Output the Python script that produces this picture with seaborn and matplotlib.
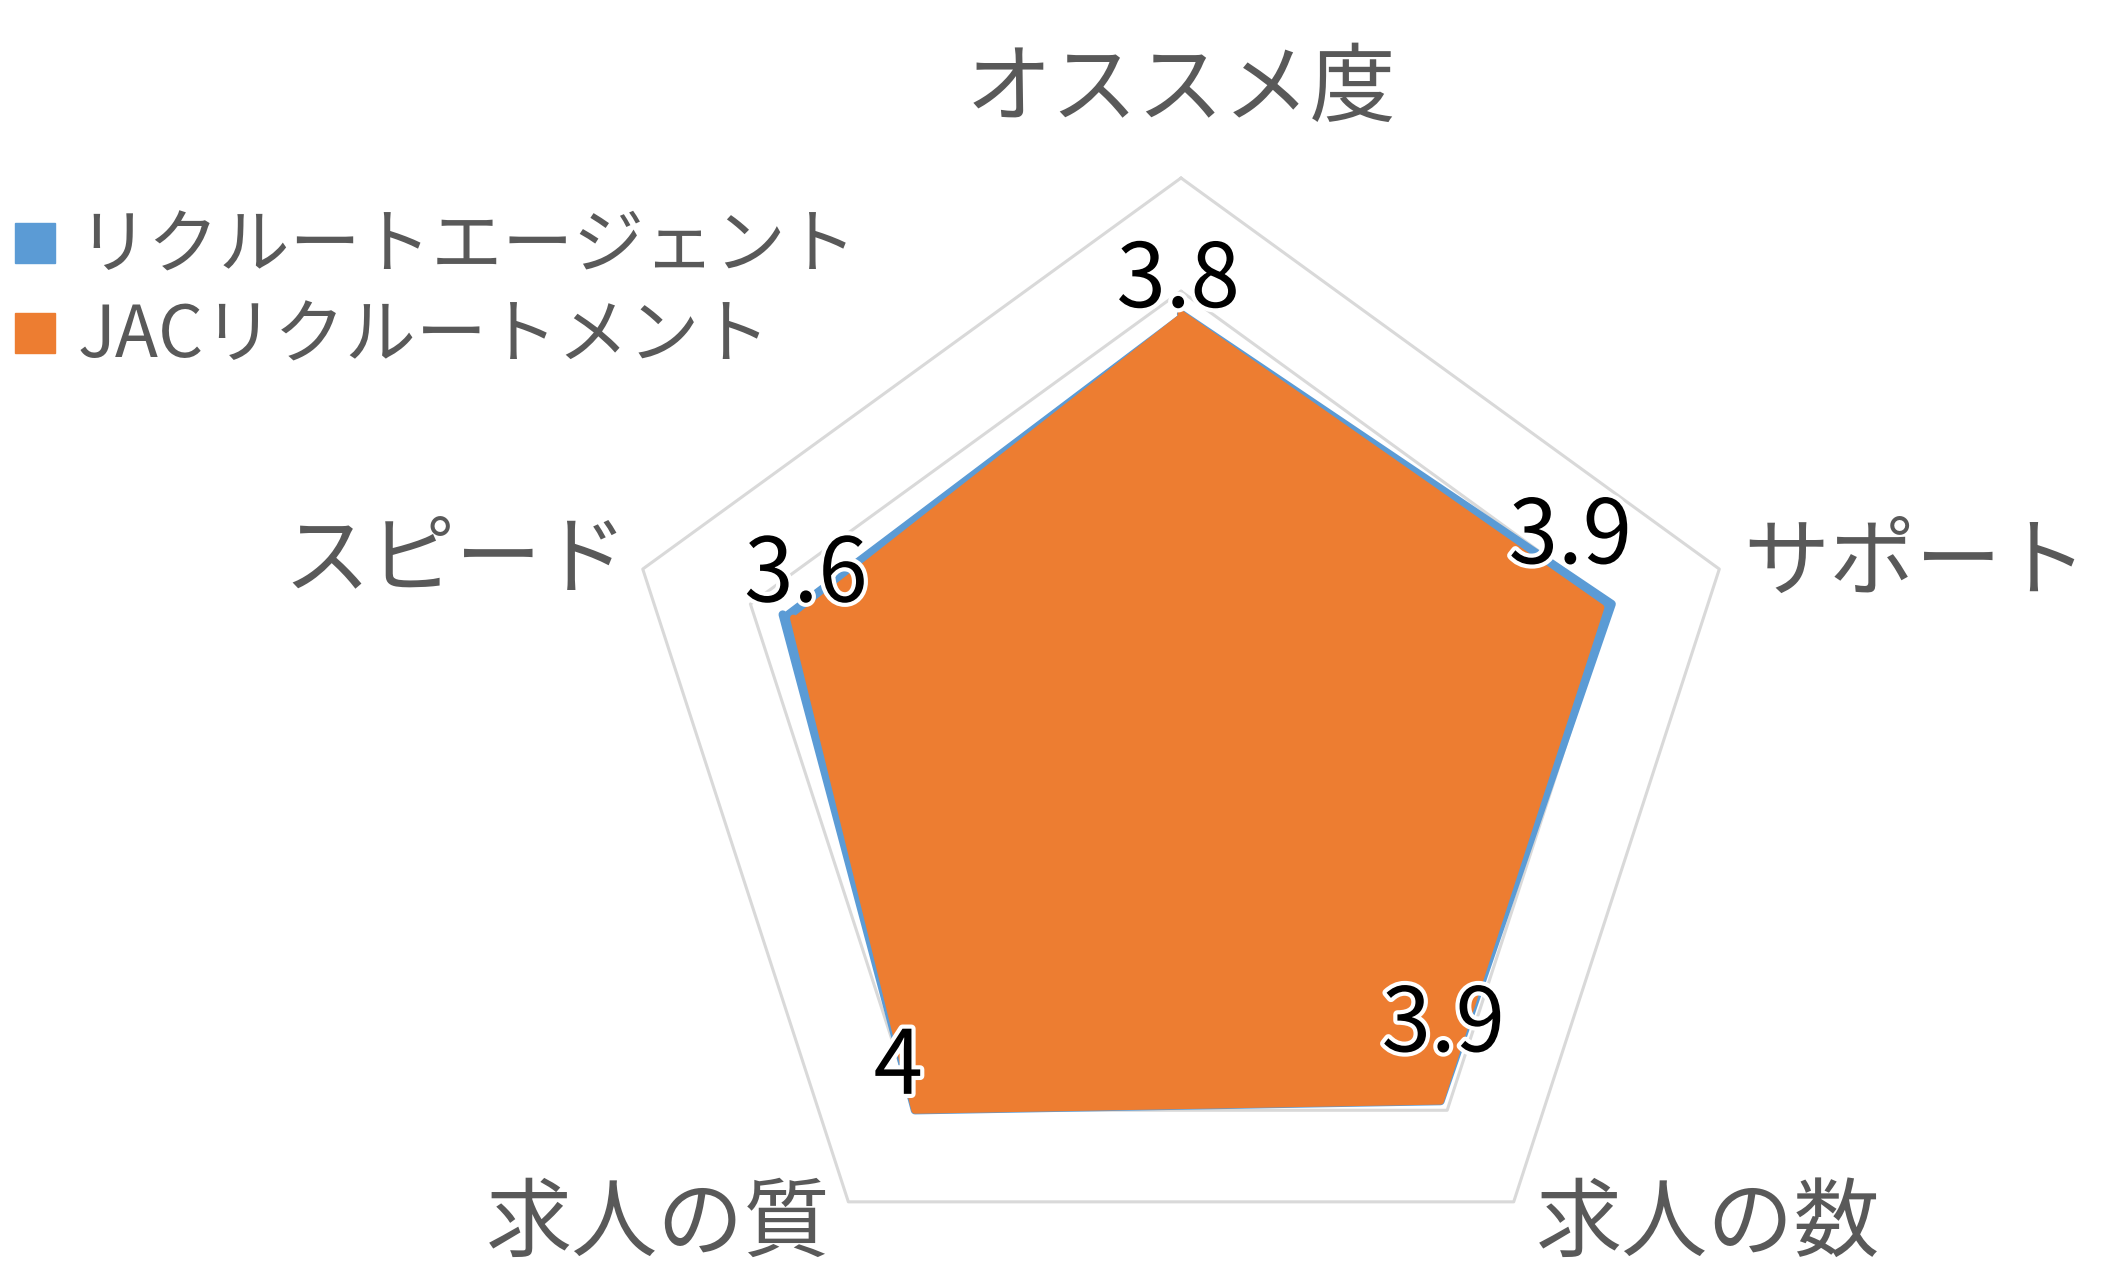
"""
Radar chart: リクルートエージェント vs JACリクルートメント
"""

import numpy as np
import pandas as pd
import matplotlib
matplotlib.use("Agg")
import matplotlib.pyplot as plt
import matplotlib.patheffects as pe
from matplotlib.lines import Line2D
import seaborn as sns

categories = ["オススメ度", "サポート", "求人の数", "求人の質", "スピード"]
series_names = ["リクルートエージェント", "JACリクルートメント"]
recruit_agent = [3.8, 4.0, 3.9, 4.0, 3.7]
jac_recruitment = [3.8, 3.9, 3.9, 4.0, 3.6]
grid_levels = [1, 2, 3, 4, 5]
r_max = 5

colors = ["#5B9BD5", "#ED7D31"]
line_widths = [6, 5]
grid_color = "#D9D9D9"
text_grey = "#595959"

sns.set_theme(style="white")
plt.rcParams["font.family"] = ["Noto Sans CJK JP", "DejaVu Sans"]

n = len(categories)
angles = np.linspace(0, 2 * np.pi, n, endpoint=False)
closed = np.append(angles, angles[0])

rows = []
for name, vals in zip(series_names, [recruit_agent, jac_recruitment]):
    for t, v in zip(closed, vals + vals[:1]):
        rows.append({"theta": t, "value": v, "series": name})
df = pd.DataFrame(rows)

fig = plt.figure(figsize=(21.12, 12.84), dpi=100)
ax = fig.add_axes([0.2912, -0.0202, 0.536, 0.8816], projection="polar")
ax.set_theta_zero_location("N")
ax.set_theta_direction(-1)
ax.set_ylim(0, r_max)
ax.set_axis_off()

# pentagon gridlines
for lvl in grid_levels:
    ax.plot(closed, [lvl] * (n + 1), color=grid_color, lw=2.2, zorder=1, clip_on=False)

# series: fill + outline, blue under orange
for i, (name, c, lw) in enumerate(zip(series_names, colors, line_widths)):
    sub = df[df["series"] == name]
    ax.fill(sub["theta"], sub["value"], color=c, zorder=2 + 2 * i, clip_on=False)
    sns.lineplot(data=sub, x="theta", y="value", ax=ax, color=c, lw=lw,
                 sort=False, legend=False, zorder=3 + 2 * i, clip_on=False)

# data labels (JAC values)
label_offsets = [(-2, 23), (-22, 50), (2, 54), (-12, 30), (9, 30)]
for t, v, off in zip(angles, jac_recruitment, label_offsets):
    ax.annotate(f"{v:g}", xy=(t, v), xytext=off, textcoords="offset points",
                ha="center", va="center", fontsize=64, color="black", zorder=10,
                annotation_clip=False,
                path_effects=[pe.withStroke(linewidth=6, foreground="white")])

# category labels
cat_offsets = [(0, 63), (17, 3), (16, -17), (-13, -17), (-11, 5)]
cat_ha = ["center", "left", "left", "right", "right"]
for t, cat, off, ha in zip(angles, categories, cat_offsets, cat_ha):
    ax.annotate(cat, xy=(t, r_max), xytext=off, textcoords="offset points",
                ha=ha, va="center", fontsize=62, color=text_grey,
                annotation_clip=False)

handles = [Line2D([], [], marker="s", ls="none", ms=29, color=c) for c in colors]
fig.legend(handles, series_names, loc="upper left", bbox_to_anchor=(0.005, 0.836),
           frameon=False, fontsize=51, labelcolor=text_grey, handlelength=0.7,
           handletextpad=0.25, labelspacing=0.24, borderpad=0, borderaxespad=0)

fig.savefig("out.png", dpi=100)
